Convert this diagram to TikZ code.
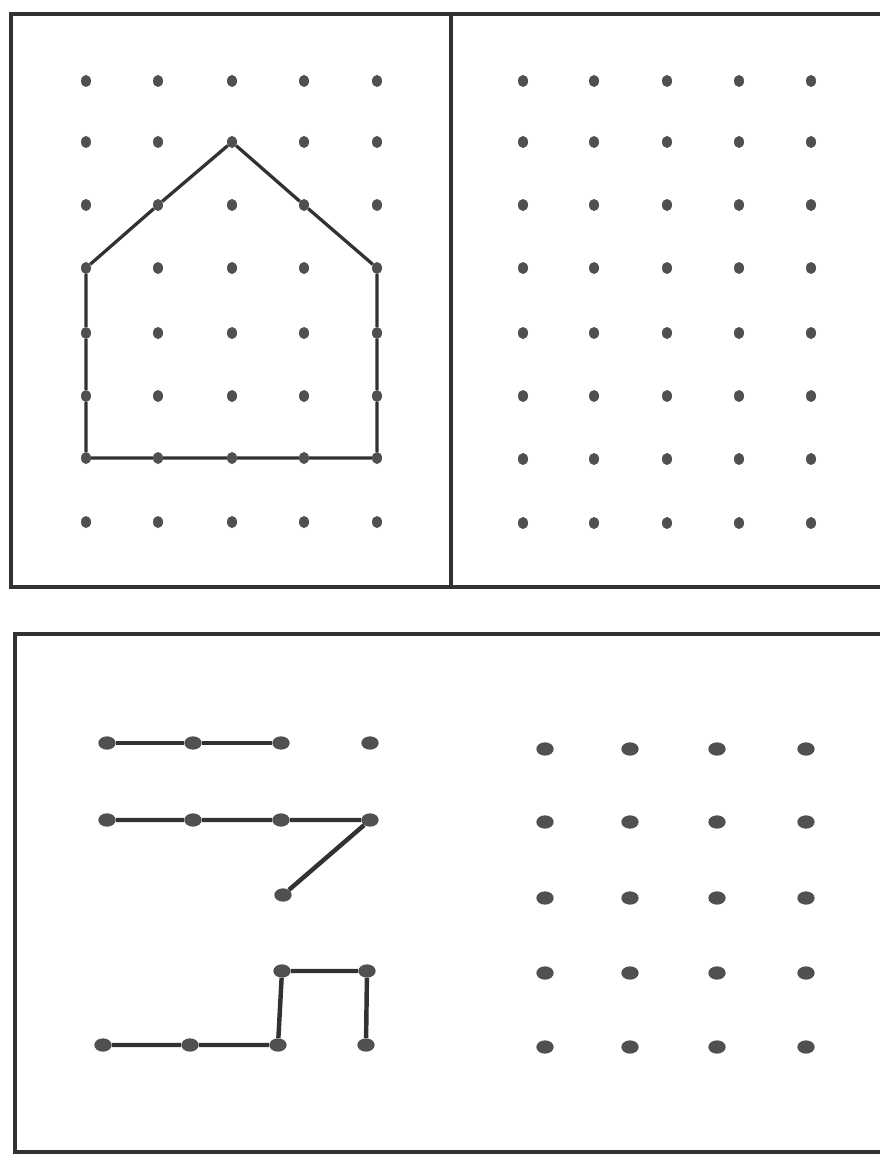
\documentclass[tikz,border=0pt]{standalone}
\usepackage{tikz}
\usetikzlibrary{shapes.geometric,positioning}
\definecolor{inkgray}{RGB}{50,50,50}
\definecolor{dotgray}{RGB}{80,80,80}

\begin{document}
\begin{tikzpicture}[x=0.03cm, y=-0.03cm,
    frame/.style={draw=inkgray, line width=3.2pt},
    smalldot/.style={ellipse, fill=dotgray, inner sep=0pt,
                     minimum width=0.30cm, minimum height=0.36cm},
    bigdot/.style={ellipse, fill=dotgray, inner sep=0pt,
                   minimum width=0.52cm, minimum height=0.40cm},
    thinline/.style={draw=inkgray, line width=2.8pt, line join=round},
    thickline/.style={draw=inkgray, line width=3.8pt, line join=round}
]
\clip (0,0) rectangle (880,1156);

% panel frames
\draw[frame] (11,14) rectangle (890,587);
\draw[frame] (451,14) -- (451,587);
\draw[frame] (15,634) rectangle (890,1152);

% top left grid with the house
\foreach \c/\x in {1/86,2/158,3/232,4/304,5/377}
  \foreach \r/\y in {1/81,2/142,3/205,4/268,5/333,6/396,7/458,8/522}
    \node[smalldot] (L-\c-\r) at (\x,\y) {};

\draw[thinline] (L-1-4) -- (L-2-3) -- (L-3-2) -- (L-4-3) -- (L-5-4)
  -- (L-5-5) -- (L-5-6) -- (L-5-7) -- (L-4-7) -- (L-3-7) -- (L-2-7)
  -- (L-1-7) -- (L-1-6) -- (L-1-5) -- (L-1-4);

% top right grid
\foreach \c/\x in {1/523,2/594,3/667,4/739,5/811}
  \foreach \r/\y in {1/81,2/142,3/205,4/268,5/333,6/396,7/459,8/523}
    \node[smalldot] (R-\c-\r) at (\x,\y) {};

% bottom left figure
\foreach \c/\x in {1/107,2/193,3/281,4/370}
  \foreach \r/\y in {1/743,2/820}
    \node[bigdot] (B-\c-\r) at (\x,\y) {};
\node[bigdot] (B-3-3) at (283,895) {};
\node[bigdot] (B-3-4) at (282,971) {};
\node[bigdot] (B-4-4) at (367,971) {};
\foreach \c/\x in {1/103,2/190,3/278,4/366}
  \node[bigdot] (B-\c-5) at (\x,1045) {};

\draw[thickline] (B-1-1) -- (B-2-1) -- (B-3-1);
\draw[thickline] (B-1-2) -- (B-2-2) -- (B-3-2) -- (B-4-2) -- (B-3-3);
\draw[thickline] (B-1-5) -- (B-2-5) -- (B-3-5) -- (B-3-4) -- (B-4-4) -- (B-4-5);

% bottom right grid
\foreach \c/\x in {1/545,2/630,3/717,4/806}
  \foreach \r/\y in {1/749,2/822,3/898,4/973,5/1047}
    \node[bigdot] (G-\c-\r) at (\x,\y) {};
\end{tikzpicture}
\end{document}
